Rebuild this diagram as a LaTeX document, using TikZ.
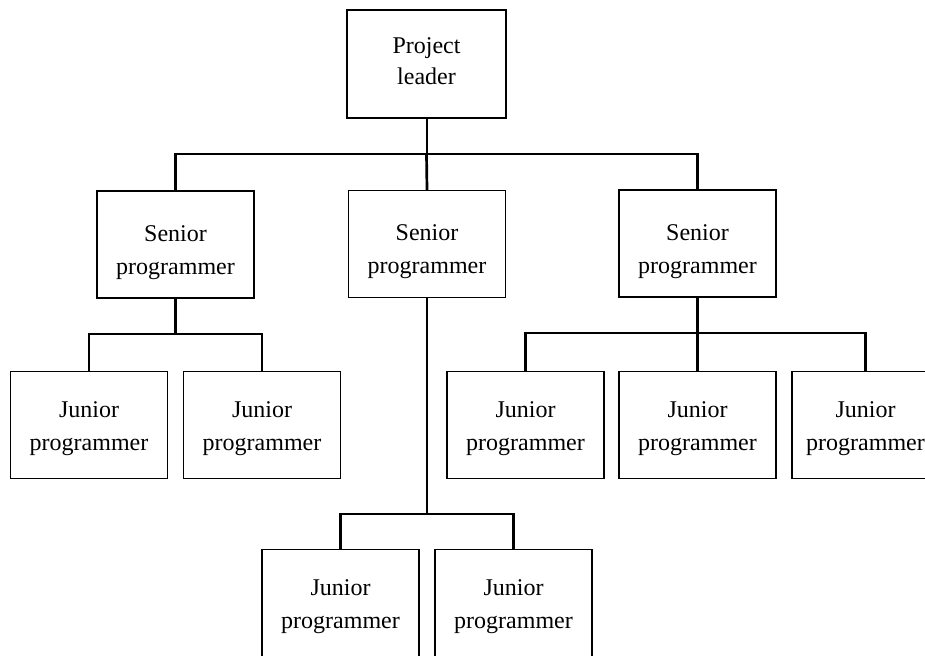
\documentclass[tikz,border=0pt]{standalone}
\usepackage{fontspec}
\setmainfont{Liberation Serif}
\begin{document}
\begin{tikzpicture}[x=1pt,y=-1pt,
  role/.style={draw, line width=1.2pt, minimum width=157pt, minimum height=107pt,
    inner sep=0pt, align=center, font=\fontsize{24}{33}\selectfont,
    text height=55pt, text depth=5pt},
  senior/.style={role, text height=64pt},
  link/.style={line width=2.7pt, line join=miter}]
\useasboundingbox (0,0) rectangle (925,655);
\clip (0,0) rectangle (925,655);

% top level
\node[role, minimum width=159pt, minimum height=108pt, text height=47pt,
  font=\fontsize{24}{31}\selectfont] (pl) at (426.5,64) {Project\\leader};

% senior programmers
\node[senior] (s1) at (175.5,244.5) {Senior\\programmer};
\node[senior] (s2) at (427,244) {Senior\\programmer};
\node[senior] (s3) at (697.5,243.5) {Senior\\programmer};

% junior programmers
\node[role] (j1) at (89,425) {Junior\\programmer};
\node[role] (j2) at (262,425) {Junior\\programmer};
\node[role] (j3) at (525.5,425) {Junior\\programmer};
\node[role] (j4) at (697.5,425) {Junior\\programmer};
\node[role, minimum width=147pt] (j5) at (865.5,425) {Junior\\programmer};
\node[role] (j6) at (340.5,603) {Junior\\programmer};
\node[role] (j7) at (513.5,603) {Junior\\programmer};

% bus junctions
\coordinate (b0) at (pl.south |- 0,154);
\coordinate (b1) at (s1.south |- 0,334);
\coordinate (b2) at (s2.south |- 0,514);
\coordinate (b3) at (s3.south |- 0,333);

% leader to seniors
\draw[line width=2pt] (pl.south) -- (b0);
\draw[link] (s1.north) |- (b0) -| (s3.north);
\draw[link] (b0) -- (s2.north);

% seniors to juniors
\draw[link] (s1.south) -- (b1);
\draw[link] (j1.north) |- (b1) -| (j2.north);

\draw[link] (s2.south) -- (b2);
\draw[link] (j6.north) |- (b2) -| (j7.north);

\draw[link] (s3.south) -- (b3);
\draw[link] (j3.north) |- (b3) -| (j5.north);
\draw[link] (b3) -- (j4.north);
\end{tikzpicture}
\end{document}
